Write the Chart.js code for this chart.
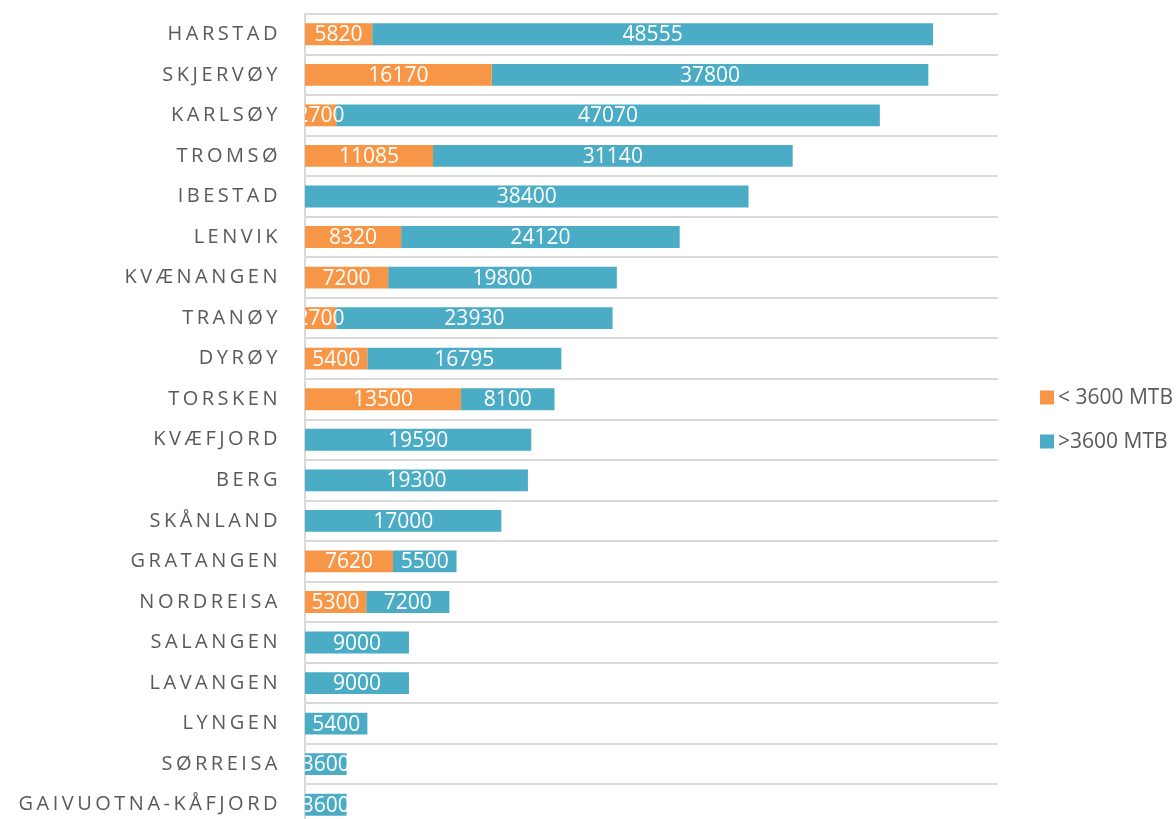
<!DOCTYPE html>
<html>
<head>
<meta charset="utf-8">
<script src="https://cdn.jsdelivr.net/npm/chart.js@4/dist/chart.umd.min.js"></script>
<style>
  html, body { margin: 0; padding: 0; overflow: hidden; background: #fff; }
  #wrap { width: 1176px; height: 825px; }
</style>
</head>
<body>
<div id="wrap"><canvas id="barChart"></canvas></div>
<script>
// Kommuner, top to bottom
const kommuner = ['HARSTAD', 'SKJERVØY', 'KARLSØY', 'TROMSØ', 'IBESTAD', 'LENVIK', 'KVÆNANGEN', 'TRANØY', 'DYRØY', 'TORSKEN',
    'KVÆFJORD', 'BERG', 'SKÅNLAND', 'GRATANGEN', 'NORDREISA', 'SALANGEN', 'LAVANGEN', 'LYNGEN', 'SØRREISA', 'GAIVUOTNA-KÅFJORD'];

const under3600 = [5820, 16170, 2700, 11085, null, 8320, 7200, 2700, 5400, 13500,
    null, null, null, 7620, 5300, null, null, null, null, null];
const over3600 = [48555, 37800, 47070, 31140, 38400, 24120, 19800, 23930, 16795, 8100,
    19590, 19300, 17000, 5500, 7200, 9000, 9000, 5400, 3600, 3600];

const seriesNames = ['< 3600 MTB', '>3600 MTB'];
const xMax = 60000;

const grey = '#595959';
const fontName = "'Open Sans', sans-serif";

//letter spaced category labels (legend and value labels are drawn later without it)
const spacingPlugin = {
    id: 'spacing',
    beforeDraw(chart) {
        chart.ctx.letterSpacing = '3.5px';
    },
    beforeDatasetsDraw(chart) {
        chart.ctx.letterSpacing = '0px';
    }
};

//values in the middle of each segment, clipped to the plot area
const valuePlugin = {
    id: 'values',
    afterDatasetsDraw(chart) {
        const ctx = chart.ctx;
        const area = chart.chartArea;
        ctx.save();
        ctx.beginPath();
        ctx.rect(area.left, area.top, area.right - area.left, area.bottom - area.top);
        ctx.clip();
        ctx.letterSpacing = '0px';
        ctx.font = '21px ' + fontName;
        ctx.fillStyle = '#ffffff';
        ctx.textAlign = 'center';
        ctx.textBaseline = 'middle';
        chart.data.datasets.forEach((ds, d) => {
            chart.getDatasetMeta(d).data.forEach((bar, i) => {
                if (ds.data[i] == null) return;
                ctx.fillText(ds.data[i], (bar.x + bar.base) / 2, bar.y + 1);
            });
        });
        ctx.restore();
    }
};

const legendPlugin = {
    id: 'sideLegend',
    afterDraw(chart) {
        const ctx = chart.ctx;
        const area = chart.chartArea;
        const mid = (area.top + area.bottom) / 2;
        ctx.save();
        ctx.letterSpacing = '0px';
        ctx.font = '21px ' + fontName;
        ctx.textAlign = 'left';
        ctx.textBaseline = 'middle';
        chart.data.datasets.forEach((ds, d) => {
            const y = mid - 22 + d * 44;
            ctx.fillStyle = ds.backgroundColor;
            ctx.fillRect(1040, y - 7, 14, 14);
            ctx.fillStyle = grey;
            ctx.fillText(ds.label, 1058, y + 1);
        });
        ctx.restore();
    }
};

const chart = new Chart(document.getElementById('barChart').getContext('2d'), {
    type: 'bar',
    data: {
        labels: kommuner,
        datasets: [
            { label: seriesNames[0], data: under3600, backgroundColor: '#F79646' },
            { label: seriesNames[1], data: over3600, backgroundColor: '#4BACC6' }
        ]
    },
    options: {
        indexAxis: 'y',
        responsive: true,
        maintainAspectRatio: false,
        animation: false,
        barPercentage: 0.54,
        categoryPercentage: 1,
        layout: { padding: { top: 14, right: 178, bottom: 0, left: 0 } },
        scales: {
            x: { stacked: true, display: false, min: 0, max: xMax },
            y: {
                stacked: true,
                afterFit: s => {
                    s.width = 305;
                    s.paddingTop = 0;
                    s.paddingBottom = 0;
                },
                border: { color: '#d9d9d9', width: 2 },
                grid: { color: '#d9d9d9', lineWidth: 2, drawTicks: false, offset: true },
                ticks: {
                    color: grey,
                    padding: 24,
                    font: { family: fontName, size: 20 }
                }
            }
        },
        plugins: {
            legend: { display: false },
            tooltip: { enabled: false }
        }
    },
    plugins: [spacingPlugin, valuePlugin, legendPlugin]
});
</script>
</body>
</html>
